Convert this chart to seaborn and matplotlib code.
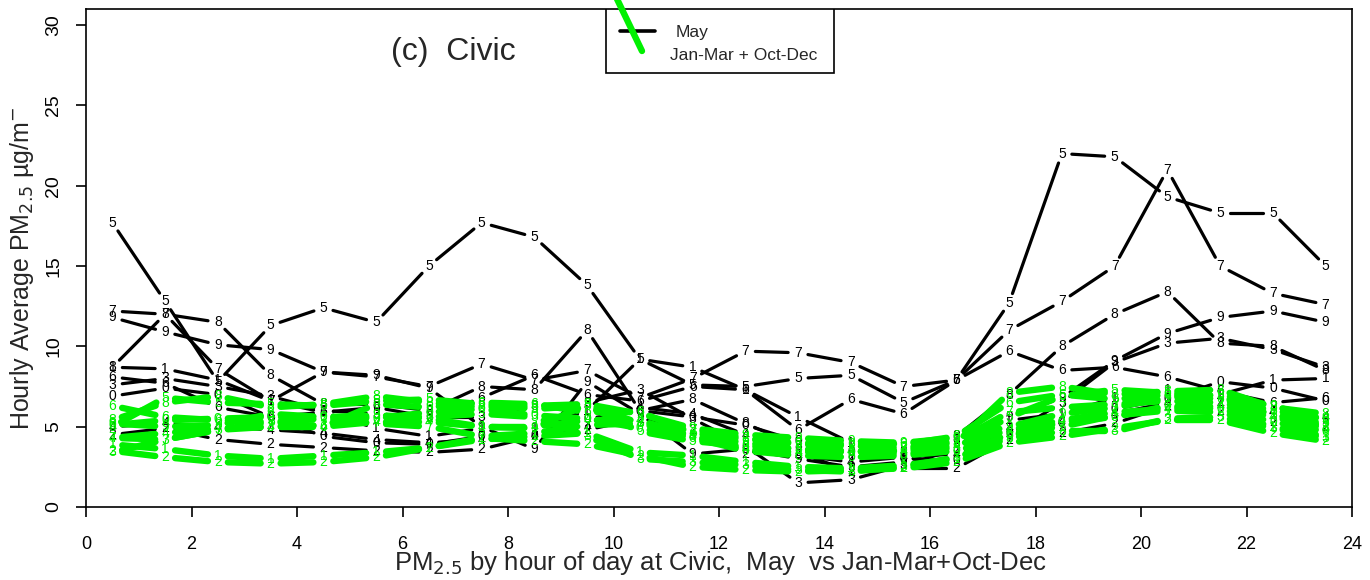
import numpy as np
import pandas as pd
import matplotlib
matplotlib.use("Agg")
import matplotlib.pyplot as plt
from matplotlib.lines import Line2D
import seaborn as sns

sns.set_style("white")
plt.rcParams['font.family'] = ['Liberation Sans', 'DejaVu Sans']

# ---------------------------------------------------------------- data
hours = [h + 0.5 for h in range(24)]

# May, one column per year (labels are the matplot column symbols)
may_labels = ['1', '2', '3', '4', '5', '6', '7', '8', '9', '0']
may_1 = [8.7, 8.6, 7.9, 6.6, 5.9, 4.9, 4.4, 4.9, 4.9, 6.0, 9.2, 8.7, 7.3, 5.6, 4.0, 3.3, 4.2, 5.4, 5.8, 6.8, 7.3, 7.0, 7.9, 8.0]
may_2 = [4.5, 4.9, 4.2, 3.9, 3.7, 3.5, 3.4, 3.6, 4.4, 4.8, 5.5, 4.8, 3.3, 3.4, 2.2, 2.4, 2.4, 4.2, 4.6, 5.2, 6.3, 6.0, 5.3, 5.0]
may_3 = [7.6, 8.0, 7.5, 6.9, 6.0, 5.8, 5.6, 5.6, 6.3, 6.5, 7.3, 5.5, 3.8, 1.5, 1.7, 2.6, 3.6, 4.5, 6.5, 9.0, 10.2, 10.5, 9.8, 8.7]
may_4 = [5.0, 5.2, 5.0, 4.8, 4.6, 4.2, 4.0, 4.2, 4.5, 5.0, 6.2, 5.8, 4.5, 3.2, 2.8, 3.1, 3.3, 4.9, 5.3, 5.8, 6.5, 6.4, 5.9, 5.6]
may_5 = [17.7, 12.8, 7.8, 11.3, 12.4, 11.5, 15.0, 17.7, 16.8, 13.8, 9.2, 7.6, 7.5, 8.0, 8.2, 6.5, 7.9, 12.7, 22.0, 21.8, 19.3, 18.3, 18.3, 15.0]
may_6 = [8.1, 7.7, 6.2, 5.6, 5.9, 6.2, 5.6, 6.8, 8.2, 7.0, 6.6, 7.5, 7.3, 4.8, 6.7, 5.8, 7.9, 9.7, 8.5, 8.7, 8.1, 7.2, 6.5, 6.8]
may_7 = [12.2, 12.0, 8.6, 6.6, 8.4, 8.1, 7.5, 8.9, 7.9, 8.5, 6.8, 8.0, 9.7, 9.6, 9.0, 7.5, 7.9, 11.0, 12.8, 15.0, 21.0, 15.0, 13.3, 12.6]
may_8 = [8.7, 12.0, 11.5, 8.2, 6.4, 6.4, 6.0, 7.5, 7.3, 11.0, 6.0, 6.7, 5.2, 3.8, 3.2, 3.4, 4.4, 7.0, 10.0, 12.0, 13.4, 10.2, 10.0, 8.5]
may_9 = [11.8, 10.9, 10.1, 9.8, 8.4, 8.2, 7.4, 5.0, 3.6, 7.8, 5.8, 3.3, 3.6, 3.0, 2.5, 2.8, 4.0, 5.6, 6.8, 9.1, 10.8, 11.8, 12.2, 11.5]
may_0 = [6.9, 7.4, 7.0, 5.6, 4.4, 4.0, 3.9, 4.4, 4.4, 5.5, 6.0, 5.6, 5.1, 4.1, 3.4, 3.0, 2.9, 4.6, 5.2, 6.1, 6.7, 7.8, 7.4, 6.6]
may_vals = [may_1, may_2, may_3, may_4, may_5, may_6, may_7, may_8, may_9, may_0]

# Jan-Mar + Oct-Dec, one column per year
cold_labels = ['1', '2', '3', '4', '5', '6', '7', '8', '9', '0']
cold_1 = [3.9, 3.6, 3.2, 3.0, 3.2, 3.4, 3.7, 4.2, 4.4, 4.6, 3.4, 3.2, 2.8, 2.5, 2.4, 2.6, 3.0, 4.6, 5.0, 5.7, 6.0, 5.9, 5.0, 4.4]
cold_2 = [3.5, 3.1, 2.8, 2.7, 2.8, 3.1, 3.7, 4.3, 4.1, 3.9, 3.2, 2.5, 2.3, 2.2, 2.3, 2.4, 2.8, 4.0, 4.4, 4.9, 5.4, 5.4, 4.6, 4.1]
cold_3 = [3.4, 4.2, 4.8, 5.0, 5.1, 5.7, 5.6, 5.8, 5.6, 4.4, 3.0, 2.8, 2.6, 2.3, 2.2, 2.5, 3.1, 4.3, 4.7, 4.7, 5.5, 5.6, 4.9, 4.3]
cold_4 = [4.3, 4.6, 4.9, 5.0, 5.0, 5.3, 5.3, 5.0, 5.0, 5.4, 5.4, 4.4, 3.6, 3.4, 3.5, 3.5, 3.8, 4.8, 5.4, 5.9, 6.1, 6.3, 5.6, 4.9]
cold_5 = [5.0, 6.8, 6.5, 6.4, 6.3, 6.6, 6.7, 6.4, 6.1, 6.3, 4.7, 4.1, 3.8, 3.6, 3.5, 3.3, 3.7, 5.6, 6.9, 7.3, 7.1, 6.9, 5.7, 5.2]
cold_6 = [6.3, 5.6, 5.4, 5.3, 5.0, 6.4, 6.2, 6.5, 6.4, 5.9, 5.9, 4.6, 4.2, 4.0, 3.9, 3.9, 4.4, 6.5, 7.0, 6.7, 7.0, 6.7, 6.0, 5.5]
cold_7 = [4.3, 4.2, 4.8, 5.3, 5.5, 5.2, 5.0, 4.4, 4.6, 5.1, 5.2, 4.8, 4.3, 3.9, 3.8, 3.7, 4.1, 5.9, 6.2, 6.4, 6.6, 6.5, 5.8, 5.0]
cold_8 = [5.4, 6.5, 6.9, 6.2, 6.4, 6.9, 6.5, 6.2, 6.3, 6.4, 5.2, 4.4, 4.0, 3.6, 3.4, 3.6, 4.0, 7.1, 7.5, 7.0, 7.2, 7.3, 6.2, 5.8]
cold_9 = [5.2, 5.0, 5.1, 5.8, 5.6, 5.7, 5.5, 5.0, 4.9, 6.4, 5.8, 4.9, 4.5, 4.3, 4.1, 4.0, 4.3, 5.0, 5.8, 6.2, 6.8, 7.0, 6.3, 5.4]
cold_0 = [5.1, 5.4, 5.5, 5.6, 5.6, 5.5, 5.9, 6.1, 5.7, 5.5, 4.9, 4.3, 3.5, 3.2, 3.1, 3.2, 3.5, 4.4, 5.3, 5.6, 6.3, 6.1, 5.3, 4.7]
cold_vals = [cold_1, cold_2, cold_3, cold_4, cold_5, cold_6, cold_7, cold_8, cold_9, cold_0]

x_ticks = list(range(0, 25, 2))
y_ticks = list(range(0, 31, 5))

BLACK = "black"
GREEN = "#00f000"

rows = []
for lab, v in zip(may_labels, may_vals):
    rows += [dict(hour=h, pm=p, col=lab, grp='May') for h, p in zip(hours, v)]
for lab, v in zip(cold_labels, cold_vals):
    rows += [dict(hour=h, pm=p, col=lab, grp='cold') for h, p in zip(hours, v)]
df = pd.DataFrame(rows)

# ---------------------------------------------------------------- figure
fig = plt.figure(figsize=(13.7, 5.8), dpi=100)
ax = fig.add_axes([86/1370, 1 - 507/580, 1266/1370, 498/580])
ax.set_xlim(0, 24)
ax.set_ylim(0, 31)

GAP = 10  # pixels left free round each symbol (R type="b")


def matplot_b(ax, d, color, lw, z):
    # segments between points, shortened in display space, then the symbol
    inv = ax.transData.inverted()
    pts = ax.transData.transform(d[['hour', 'pm']].to_numpy())
    for p0, p1 in zip(pts[:-1], pts[1:]):
        dv = p1 - p0
        L = np.hypot(*dv)
        if L <= 2 * GAP:
            continue
        u = dv / L
        a = inv.transform(p0 + u * GAP)
        b = inv.transform(p1 - u * GAP)
        ax.plot([a[0], b[0]], [a[1], b[1]], color=color, lw=lw,
                solid_capstyle='round', zorder=z)
    for h, p, lab in zip(d['hour'], d['pm'], d['col']):
        ax.text(h, p, lab, color=color, fontsize=10, ha='center', va='center',
                zorder=z + 1)


for lab in may_labels:
    matplot_b(ax, df[(df.grp == 'May') & (df.col == lab)], BLACK, 2.3, 2)
for lab in cold_labels:
    matplot_b(ax, df[(df.grp == 'cold') & (df.col == lab)], GREEN, 4.6, 4)

# axes
for s in ax.spines.values():
    s.set_visible(True)
    s.set_color('black')
    s.set_linewidth(1.2)
ax.set_xticks(x_ticks)
ax.set_yticks(y_ticks)
ax.set_yticklabels([str(t) for t in y_ticks], rotation=90, va='center')
ax.tick_params(axis='both', direction='out', length=7, width=1.2,
               labelsize=13, colors='black')
ax.tick_params(axis='x', pad=14, bottom=True)
ax.tick_params(axis='y', pad=10, left=True, labelsize=14)

fig.text(22/1370, 1 - 268/580, r"Hourly Average PM$_{2.5}$ µg/m$^{-}$",
         rotation=90, ha='center', va='center', fontsize=18)
fig.text(720/1370, 1 - 563/580,
         r"PM$_{2.5}$ by hour of day at Civic,  May  vs Jan-Mar+Oct-Dec",
         ha='center', va='center', fontsize=18.5)
ax.text(0.29, 0.914, "(c)  Civic", transform=ax.transAxes, ha='center',
        va='center', fontsize=23)

# legend box (R style, with the odd slanted green key)
lx0, lx1 = (606 - 86) / 1266, (834 - 86) / 1266
ly0, ly1 = (507 - 73) / 498, 1.0
ax.add_patch(plt.Rectangle((lx0, ly0), lx1 - lx0, ly1 - ly0, transform=ax.transAxes,
                           fill=True, facecolor='white', edgecolor='black',
                           lw=1.2, zorder=6))
ax.add_line(Line2D([(620 - 86) / 1266, (655 - 86) / 1266], [(507 - 31) / 498] * 2,
                   transform=ax.transAxes, color=BLACK, lw=2.6, zorder=7))
ax.add_line(Line2D([(617 - 86) / 1266, (642 - 86) / 1266],
                   [(507 + 1) / 498, (507 - 51) / 498],
                   transform=ax.transAxes, color=GREEN, lw=4.6, zorder=7,
                   solid_capstyle='round', clip_on=False))
ax.text((676 - 86) / 1266, (507 - 33) / 498, "May", transform=ax.transAxes,
        fontsize=12.5, va='center', ha='left', zorder=8)
ax.text((670 - 86) / 1266, (507 - 56) / 498, "Jan-Mar + Oct-Dec",
        transform=ax.transAxes, fontsize=12.5, va='center', ha='left', zorder=8)

fig.savefig("out.png", dpi=100)
